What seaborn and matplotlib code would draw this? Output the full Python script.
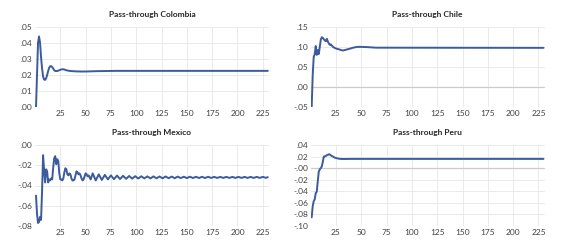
import matplotlib
matplotlib.use("Agg")
import matplotlib.pyplot as plt
from matplotlib.ticker import FuncFormatter, MultipleLocator
import seaborn as sns
import pandas as pd

# ---- data ----
col_x = [1, 2, 3, 4, 5, 6, 7, 8, 9, 10, 11, 12, 13, 14, 15, 16, 17, 18, 19, 20,
         22, 24, 26, 28, 30, 32, 35, 40, 45, 50, 60, 80, 230]
col_y = [0.000, 0.020, 0.040, 0.044, 0.040, 0.031, 0.024, 0.019, 0.0172, 0.017,
         0.018, 0.020, 0.0225, 0.0245, 0.0255, 0.0255, 0.025, 0.024, 0.023, 0.0225,
         0.0225, 0.023, 0.0235, 0.0236, 0.0232, 0.0228, 0.0225, 0.0223, 0.0222,
         0.0222, 0.0224, 0.0226, 0.0226]

chi_x = [1, 2, 3, 4, 5, 6, 7, 8, 9, 10, 11, 12, 13, 14, 15, 16, 17, 18, 19, 20,
         22, 24, 26, 28, 30, 32, 35, 38, 42, 46, 50, 55, 65, 230]
chi_y = [-0.049, 0.030, 0.075, 0.082, 0.102, 0.080, 0.092, 0.082, 0.100, 0.118,
         0.124, 0.122, 0.119, 0.116, 0.114, 0.120, 0.113, 0.108, 0.105, 0.106,
         0.100, 0.097, 0.095, 0.094, 0.092, 0.091, 0.093, 0.095, 0.098, 0.100,
         0.100, 0.0995, 0.098, 0.0976]

mex_x = [1, 2, 3, 4, 5, 6, 7, 8, 9, 10, 11, 12, 13, 14, 15, 16, 17, 18, 19, 20,
         21, 22, 23, 24, 25, 26, 27, 28, 29, 30, 31, 32, 33, 34, 35, 36, 37, 38,
         39, 40, 41, 42, 43, 44, 45, 46, 47, 48, 49, 50, 51, 52, 53, 54, 55,
         57, 60, 63, 66, 69, 72, 75, 78, 81, 84, 87, 90, 93, 96, 99, 102, 105,
         108, 111, 114, 117, 120, 123, 126, 129, 132, 135, 138, 141, 144, 147,
         150, 153, 156, 159, 162, 165, 168, 171, 174, 177, 180, 183, 186, 189,
         192, 195, 198, 201, 204, 207, 210, 213, 216, 219, 222, 225, 228, 230]
mex_y = [-0.050, -0.068, -0.077, -0.076, -0.071, -0.074, -0.045, -0.010, -0.025,
         -0.037, -0.024, -0.026, -0.037, -0.034, -0.035, -0.033, -0.034, -0.022,
         -0.013, -0.011, -0.019, -0.014, -0.016, -0.028, -0.034, -0.034, -0.035,
         -0.033, -0.027, -0.023, -0.024, -0.029, -0.030, -0.028, -0.029, -0.033,
         -0.035, -0.035, -0.034, -0.030, -0.026, -0.027, -0.029, -0.028, -0.030,
         -0.033, -0.035, -0.034, -0.031, -0.028, -0.029, -0.031, -0.030, -0.032,
         -0.034,
         -0.028, -0.035, -0.029, -0.0345, -0.0295, -0.034, -0.030, -0.0338,
         -0.0302, -0.0336, -0.0304, -0.0334, -0.0306, -0.0332, -0.0308, -0.0331,
         -0.0309, -0.0330, -0.0310, -0.0330, -0.0310, -0.0329, -0.0311, -0.0329,
         -0.0311, -0.0328, -0.0312, -0.0328, -0.0312, -0.0327, -0.0313, -0.0327,
         -0.0313, -0.0326, -0.0314, -0.0326, -0.0314, -0.0326, -0.0314, -0.0325,
         -0.0315, -0.0325, -0.0315, -0.0325, -0.0315, -0.0325, -0.0315, -0.0325,
         -0.0315, -0.0325, -0.0315, -0.0325, -0.0315, -0.0325, -0.0315, -0.0325,
         -0.0315, -0.0324, -0.0318]

per_x = [1, 2, 3, 4, 5, 6, 7, 8, 9, 10, 11, 12, 13, 14, 15, 16, 17, 18, 19, 20,
         22, 24, 26, 29, 33, 40, 230]
per_y = [-0.085, -0.066, -0.057, -0.054, -0.043, -0.041, -0.023, -0.006, -0.002,
         0.000, 0.003, 0.011, 0.020, 0.0205, 0.021, 0.0225, 0.023, 0.024, 0.0235,
         0.022, 0.020, 0.018, 0.017, 0.016, 0.0158, 0.016, 0.016]

titles = ["Pass-through Colombia", "Pass-through Chile",
          "Pass-through Mexico", "Pass-through Peru"]
y_limits = [(0.0, 0.05), (-0.05, 0.15), (-0.08, 0.0), (-0.10, 0.04)]
y_steps = [0.01, 0.05, 0.02, 0.02]
x_ticks = [25, 50, 75, 100, 125, 150, 175, 200, 225]

series = [(col_x, col_y), (chi_x, chi_y), (mex_x, mex_y), (per_x, per_y)]

# ---- figure ----
sns.set_theme(style="whitegrid")
plt.rcParams["font.family"] = ["Lato", "DejaVu Sans"]

fig = plt.figure(figsize=(5.69, 2.50), dpi=100)
fig.patch.set_facecolor("white")

positions = [
    [0.0615, 0.571, 0.411, 0.322],
    [0.546, 0.571, 0.411, 0.322],
    [0.0615, 0.096, 0.411, 0.324],
    [0.546, 0.096, 0.411, 0.324],
]

fmt = FuncFormatter(lambda v, p: f"{v:.2f}".replace("0.", ".", 1))
line_color = "#3b5b9c"

for pos, (xs, ys), title, ylim, step in zip(positions, series, titles, y_limits, y_steps):
    ax = fig.add_axes(pos)
    df = pd.DataFrame({"x": xs, "y": ys})
    sns.lineplot(data=df, x="x", y="y", ax=ax, color=line_color, linewidth=1.4)
    ax.set_xlim(0, 231)
    ax.set_ylim(*ylim)
    ax.set_xticks(x_ticks)
    ax.yaxis.set_major_locator(MultipleLocator(step))
    ax.yaxis.set_major_formatter(fmt)
    ax.set_xlabel("")
    ax.set_ylabel("")
    ax.grid(True, color="#e6e6e6", linewidth=0.6)
    if ylim[0] < 0 < ylim[1]:
        ax.axhline(0, color="#cccccc", linewidth=0.9, zorder=1)
    sns.despine(ax=ax, left=True, bottom=True)
    ax.tick_params(axis="both", length=0, labelsize=6, colors="#404040", pad=2)
    ax.set_title(title, fontsize=6.0, fontweight="bold", color="#262626", pad=7)

fig.savefig("out.png", dpi=100, facecolor="white")
